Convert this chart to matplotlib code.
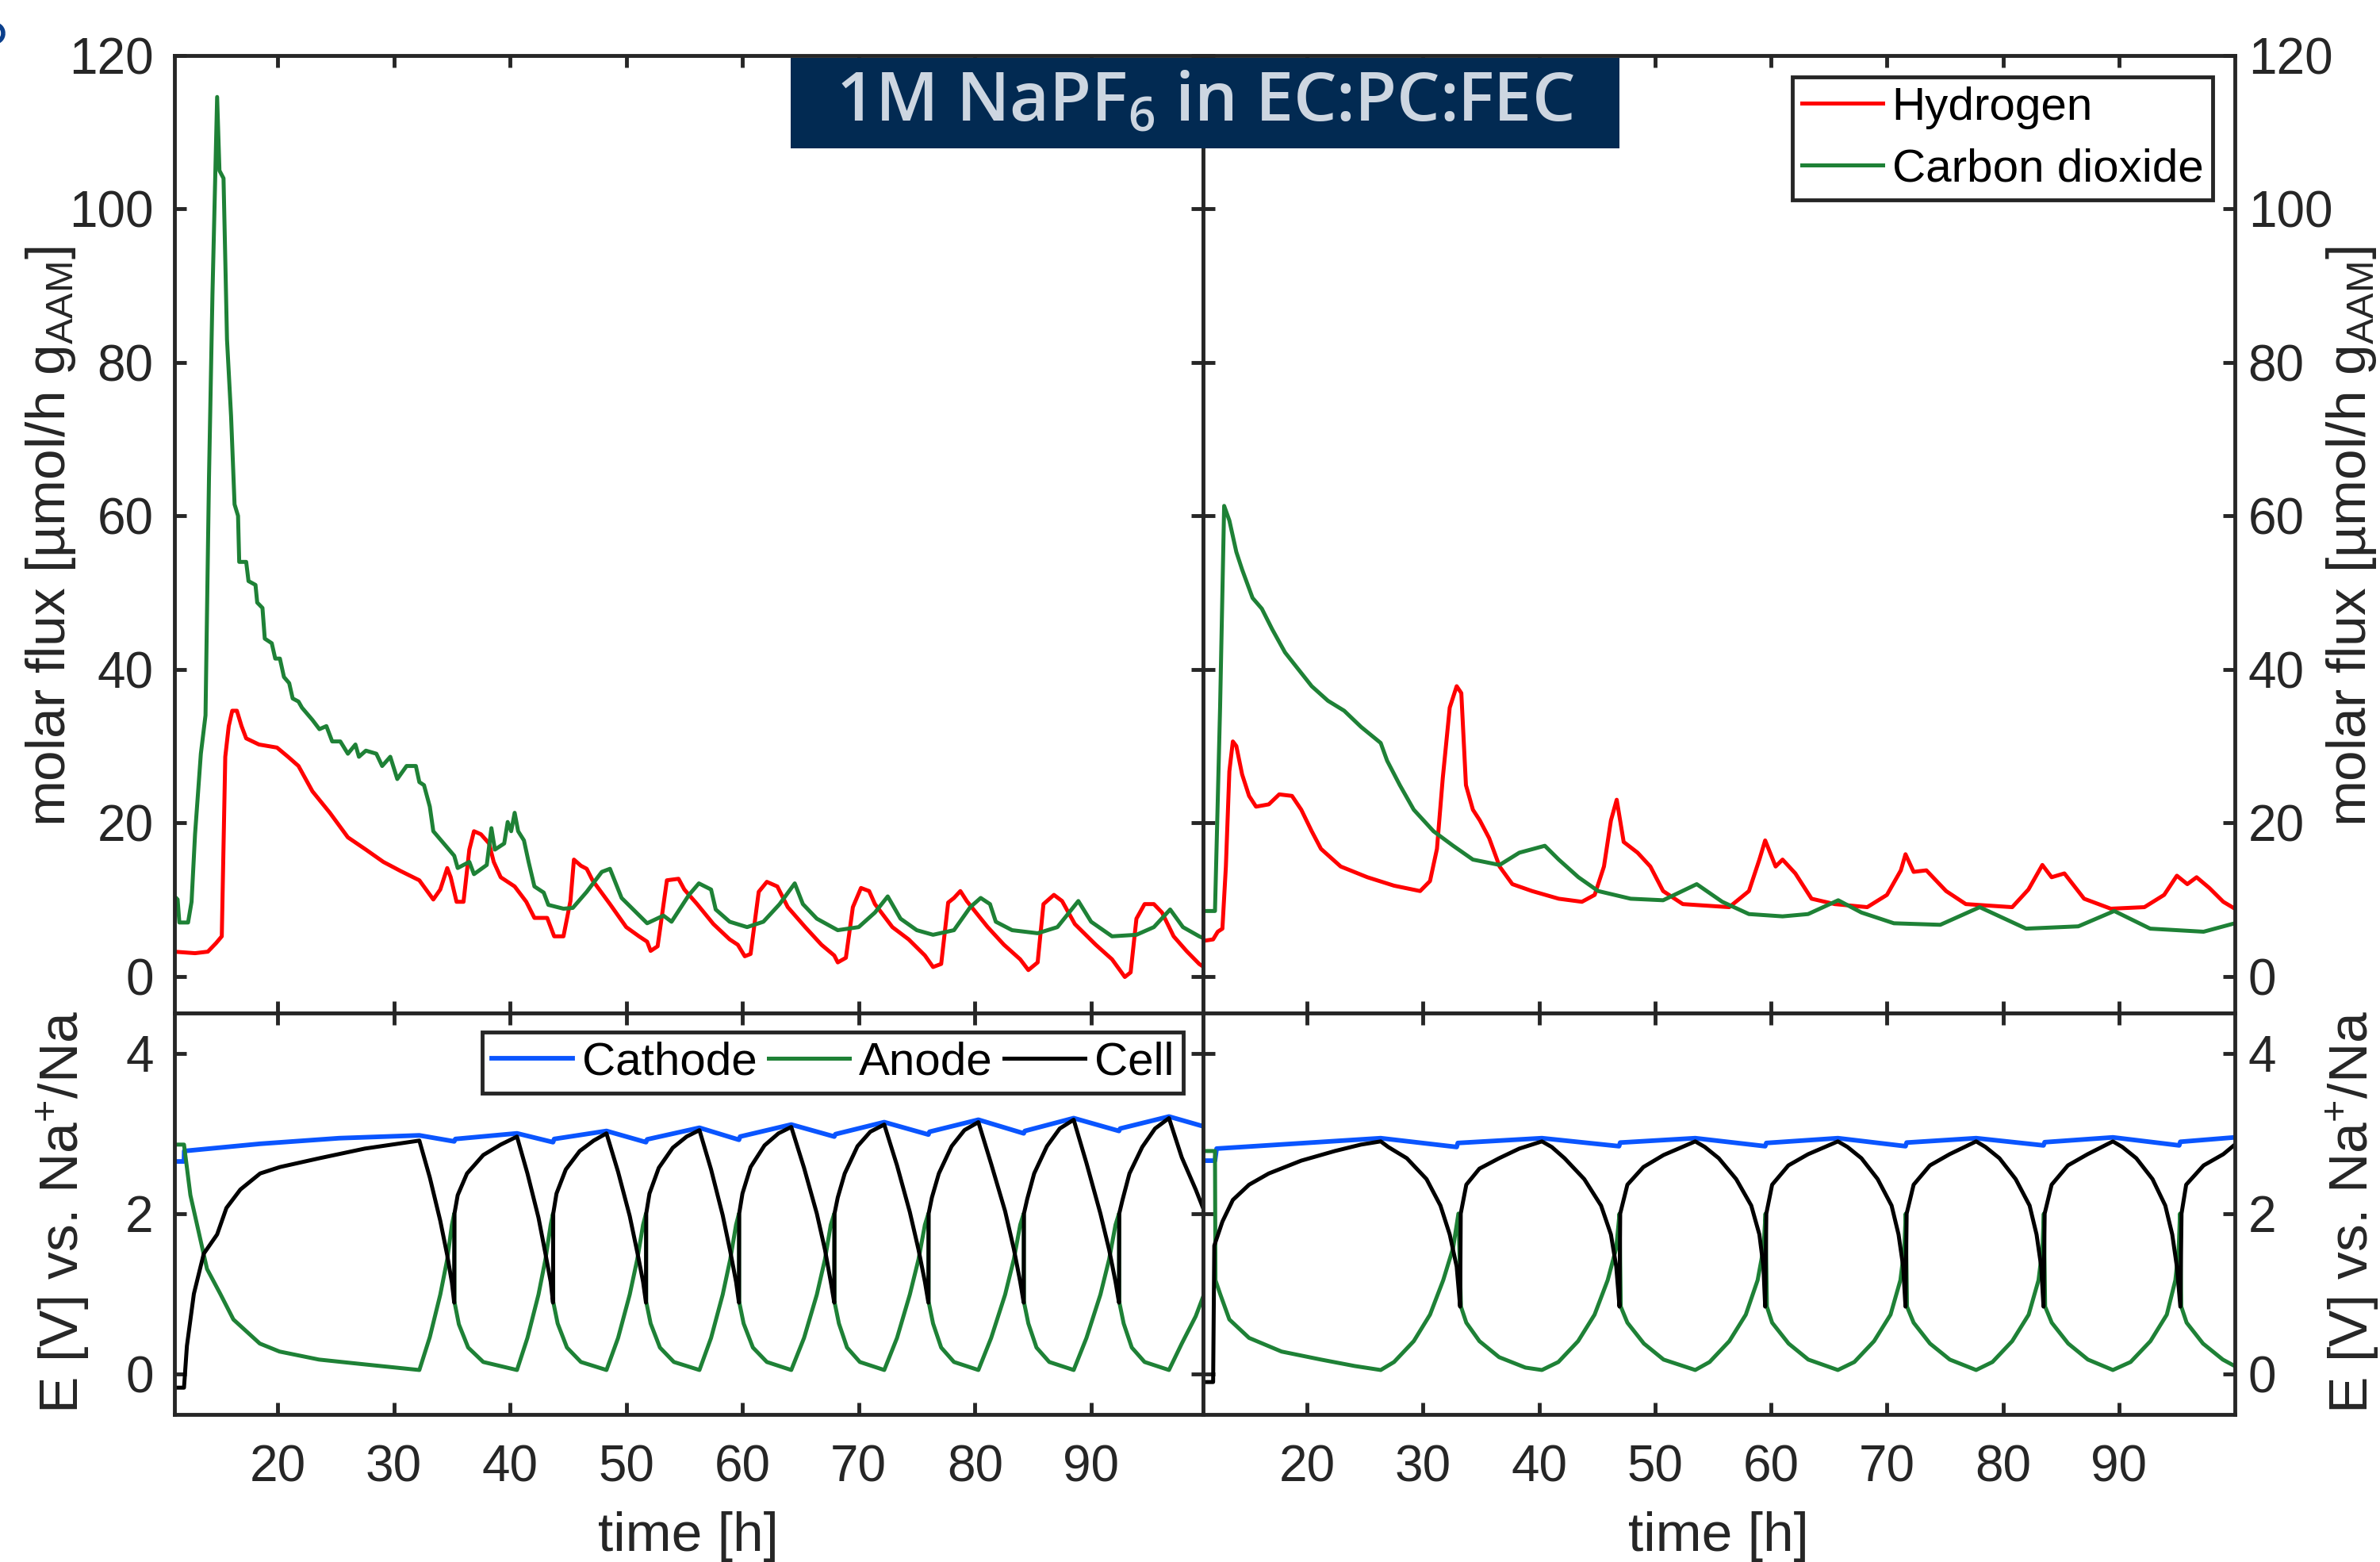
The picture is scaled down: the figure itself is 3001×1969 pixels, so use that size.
import numpy as np
import matplotlib
matplotlib.use("Agg")
import matplotlib.pyplot as plt
from matplotlib.patches import Rectangle, Arc

plt.rcParams["font.family"] = ["Liberation Sans", "DejaVu Sans"]
plt.rcParams["mathtext.fontset"] = "custom"
plt.rcParams["mathtext.rm"] = "Liberation Sans"
plt.rcParams["mathtext.default"] = "regular"

# ---- gas flux, left cell (time h, umol/h g) ----
h2_left = [
    (11.1, 3.2), (12.9, 3.0), (14.0, 3.2), (14.7, 4.3), (15.2, 5.2), (15.5, 28.6), (15.8, 32.6),
    (16.1, 34.6), (16.5, 34.6), (16.9, 32.6), (17.3, 31.0), (18.4, 30.2), (19.95, 29.8), (20.9, 28.6),
    (21.8, 27.4), (23.0, 24.1), (24.5, 21.3), (26.05, 18.1), (27.6, 16.5), (29.1, 14.9), (30.6, 13.7),
    (32.2, 12.5), (33.4, 10.0), (34.0, 11.3), (34.6, 14.1), (34.9, 12.9), (35.4, 9.7), (36.0, 9.7),
    (36.5, 16.5), (36.9, 18.9), (37.5, 18.5), (38.2, 17.3), (38.6, 14.9), (39.2, 12.9), (40.4, 11.7),
    (41.4, 9.7), (42.1, 7.6), (43.2, 7.6), (43.8, 5.2), (44.6, 5.2), (45.2, 9.8), (45.5, 15.2),
    (46.1, 14.4), (46.6, 14.0), (47.1, 12.5), (48.6, 9.4), (50.0, 6.4), (51.1, 5.2), (51.8, 4.5),
    (52.1, 3.3), (52.7, 3.9), (53.0, 7.1), (53.5, 12.5), (54.5, 12.7), (55.0, 11.3), (56.1, 9.4),
    (57.5, 6.8), (58.9, 4.8), (59.6, 4.1), (60.2, 2.6), (60.7, 2.9), (61.4, 11.0), (62.1, 12.3),
    (63.0, 11.7), (63.9, 9.0), (65.4, 6.4), (66.8, 4.1), (67.9, 2.7), (68.2, 1.8), (68.9, 2.4),
    (69.5, 9.0), (70.2, 11.5), (70.9, 11.1), (71.4, 9.4), (72.9, 6.4), (74.3, 4.8), (75.7, 2.7),
    (76.4, 1.2), (77.1, 1.6), (77.7, 9.6), (78.2, 10.2), (78.75, 11.1), (79.3, 9.8), (81.1, 6.4),
    (82.5, 4.1), (83.9, 2.2), (84.6, 0.8), (85.4, 1.8), (85.9, 9.4), (86.8, 10.6), (87.5, 9.8),
    (88.6, 6.8), (90.4, 4.1), (91.8, 2.2), (92.9, -0.1), (93.4, 0.5), (93.9, 7.5), (94.6, 9.4),
    (95.4, 9.4), (96.1, 8.3), (97.1, 5.2), (98.2, 3.3), (99.3, 1.6), (99.6, 1.3),
]
co2_left = [
    (11.07, 10.5), (11.4, 10.0), (11.55, 7.0), (12.3, 7.0), (12.6, 9.7), (12.9, 18.5), (13.4, 29.0),
    (13.8, 34.0), (14.1, 65.0), (14.4, 89.0), (14.8, 114.6), (15.0, 105.0), (15.35, 104.0),
    (15.65, 83.0), (16.0, 73.0), (16.3, 61.5), (16.6, 60.0), (16.7, 54.0), (17.3, 54.0), (17.5, 51.5),
    (18.1, 51.0), (18.25, 48.7), (18.7, 48.0), (18.9, 44.0), (19.5, 43.4), (19.8, 41.4), (20.2, 41.4),
    (20.55, 39.0), (21.0, 38.2), (21.3, 36.2), (21.8, 35.8), (22.1, 35.0), (23.0, 33.4), (23.6, 32.2),
    (24.2, 32.6), (24.7, 30.6), (25.4, 30.6), (26.05, 29.0), (26.7, 30.2), (27.0, 28.6), (27.6, 29.4),
    (28.5, 29.0), (29.0, 27.4), (29.7, 28.6), (30.3, 25.7), (31.1, 27.4), (31.9, 27.4), (32.2, 25.3),
    (32.6, 24.9), (33.1, 22.1), (33.4, 18.9), (34.3, 17.3), (35.2, 15.7), (35.5, 14.1), (36.5, 14.9),
    (36.9, 13.3), (38.0, 14.5), (38.4, 19.3), (38.7, 16.5), (39.5, 17.3), (39.8, 20.1), (40.1, 18.9),
    (40.4, 21.3), (40.7, 18.9), (41.2, 17.7), (41.6, 14.9), (42.1, 11.7), (42.9, 10.9), (43.3, 9.3),
    (44.6, 8.8), (45.4, 8.9), (46.6, 11.0), (47.9, 13.6), (48.6, 14.0), (49.6, 10.2), (50.4, 9.0),
    (51.8, 6.9), (53.2, 7.9), (53.9, 7.1), (55.4, 10.6), (56.25, 12.1), (57.3, 11.3), (57.7, 8.7),
    (58.9, 7.1), (60.4, 6.4), (61.8, 7.1), (63.2, 9.4), (64.5, 12.1), (65.2, 9.4), (66.4, 7.5),
    (68.2, 6.0), (70.0, 6.4), (71.4, 8.3), (72.5, 10.4), (73.6, 7.5), (75.0, 6.0), (76.4, 5.4),
    (78.2, 6.0), (79.6, 9.0), (80.5, 10.2), (81.3, 9.4), (81.8, 7.1), (83.2, 6.0), (85.4, 5.6),
    (87.1, 6.4), (88.9, 9.8), (90.0, 7.1), (91.8, 5.2), (93.9, 5.4), (95.4, 6.4), (96.8, 8.7),
    (97.9, 6.4), (99.3, 5.2), (99.6, 5.0),
]

# ---- gas flux, right cell ----
h2_right = [
    (11.04, 4.6), (11.9, 4.8), (12.3, 5.8), (12.7, 6.2), (13.0, 14.3), (13.3, 26.7), (13.6, 30.6),
    (13.9, 30.0), (14.4, 26.3), (15.0, 23.5), (15.6, 22.1), (16.7, 22.4), (17.6, 23.7), (18.7, 23.5),
    (19.5, 21.7), (20.4, 18.9), (21.2, 16.6), (22.9, 14.3), (25.2, 12.9), (27.5, 11.8), (29.75, 11.1),
    (30.6, 12.4), (31.2, 16.6), (31.7, 25.8), (32.3, 35.0), (32.9, 37.8), (33.3, 36.9), (33.7, 24.9),
    (34.3, 21.7), (34.9, 20.3), (35.7, 18.0), (36.6, 14.3), (37.7, 12.0), (39.4, 11.1), (41.7, 10.1),
    (43.7, 9.7), (44.8, 10.6), (45.6, 14.3), (46.2, 20.3), (46.7, 23.0), (47.3, 17.5), (48.5, 16.1),
    (49.6, 14.3), (50.7, 11.1), (52.4, 9.4), (56.4, 9.0), (58.1, 11.1), (59.0, 15.2), (59.5, 17.7),
    (60.4, 14.3), (61.0, 15.2), (62.1, 13.4), (63.5, 10.1), (65.5, 9.4), (68.3, 9.0), (70.0, 10.6),
    (71.2, 13.8), (71.6, 15.9), (72.3, 13.6), (73.4, 13.8), (75.1, 11.1), (76.8, 9.4), (80.8, 9.0),
    (82.2, 11.3), (83.4, 14.5), (84.2, 12.9), (85.3, 13.4), (87.0, 10.1), (89.3, 8.8), (92.2, 9.0),
    (93.9, 10.6), (95.0, 13.1), (95.9, 12.0), (96.7, 12.9), (97.8, 11.5), (99.0, 9.7), (100.0, 8.8),
]
co2_right = [
    (11.04, 8.5), (12.06, 8.5), (12.5, 35.0), (12.85, 61.3), (13.3, 59.4), (13.9, 55.3), (14.4, 53.0),
    (15.3, 49.3), (16.1, 47.9), (17.0, 45.2), (18.1, 42.2), (19.3, 39.9), (20.4, 37.8), (21.8, 35.9),
    (23.2, 34.6), (24.65, 32.5), (26.35, 30.4), (26.9, 28.1), (28.0, 24.9), (29.2, 21.7), (30.9, 18.9),
    (32.6, 17.0), (34.3, 15.2), (36.6, 14.5), (38.3, 16.1), (40.5, 17.0), (41.7, 15.2), (43.4, 12.9),
    (45.1, 11.1), (47.9, 10.1), (50.7, 9.9), (53.6, 12.0), (55.8, 9.7), (58.1, 8.1), (61.0, 7.8),
    (63.2, 8.1), (65.8, 9.9), (67.8, 8.3), (70.6, 6.9), (74.6, 6.7), (78.0, 9.0), (82.0, 6.2),
    (86.5, 6.5), (89.6, 8.5), (92.7, 6.2), (97.3, 5.8), (100.0, 6.9),
]

# ---- potentials, left cell (time h, V vs Na+/Na) ----
cathode_left = [
    (11.13, 2.65), (11.95, 2.65), (11.97, 2.78), (18.5, 2.87), (25.3, 2.94), (32.2, 2.975),
    (35.2, 2.9), (35.3, 2.93), (40.6, 3.0), (43.7, 2.89), (43.8, 2.93), (48.3, 3.03), (51.7, 2.89),
    (51.8, 2.925), (56.3, 3.07), (59.7, 2.92), (59.8, 2.96), (64.2, 3.11), (67.9, 2.96), (68.0, 2.99),
    (72.2, 3.14), (76.0, 2.985), (76.1, 3.02), (80.3, 3.17), (84.2, 3.0), (84.3, 3.03), (88.5, 3.19),
    (92.4, 3.03), (92.5, 3.06), (96.7, 3.21), (99.6, 3.09),
]
anode_left = [
    (11.13, 2.86), (11.95, 2.86), (12.5, 2.23), (13.37, 1.67), (13.93, 1.31), (15.07, 1.0),
    (16.2, 0.68), (18.47, 0.38), (20.17, 0.28), (23.57, 0.18), (27.5, 0.12), (32.2, 0.05),
    (33.1, 0.46), (34.0, 0.99), (34.6, 1.43), (35.0, 1.86), (35.2, 2.0), (35.22, 0.9), (35.6, 0.62),
    (36.4, 0.33), (37.7, 0.15), (40.6, 0.05),
    (41.5, 0.45), (42.45, 0.99), (43.05, 1.43), (43.5, 1.86), (43.7, 2.0), (43.72, 0.9), (44.1, 0.63),
    (44.9, 0.33), (46.1, 0.15), (48.3, 0.05),
    (49.3, 0.45), (50.3, 0.99), (50.95, 1.43), (51.45, 1.86), (51.7, 2.0), (51.72, 0.9), (52.1, 0.63),
    (52.9, 0.33), (54.1, 0.15), (56.3, 0.05),
    (57.3, 0.45), (58.3, 0.99), (58.95, 1.43), (59.45, 1.86), (59.7, 2.0), (59.72, 0.9), (60.1, 0.63),
    (60.9, 0.33), (62.1, 0.15), (64.2, 0.05),
    (65.3, 0.45), (66.4, 0.99), (67.1, 1.43), (67.6, 1.86), (67.9, 2.0), (67.92, 0.9), (68.3, 0.63),
    (69.0, 0.33), (70.1, 0.15), (72.2, 0.05),
    (73.3, 0.45), (74.4, 0.99), (75.15, 1.43), (75.7, 1.86), (76.0, 2.0), (76.02, 0.9), (76.4, 0.63),
    (77.1, 0.33), (78.2, 0.15), (80.3, 0.05),
    (81.4, 0.45), (82.6, 0.99), (83.35, 1.43), (83.9, 1.86), (84.2, 2.0), (84.22, 0.9), (84.6, 0.63),
    (85.3, 0.33), (86.4, 0.15), (88.5, 0.05),
    (89.6, 0.45), (90.8, 0.99), (91.55, 1.43), (92.1, 1.86), (92.4, 2.0), (92.42, 0.9), (92.8, 0.63),
    (93.5, 0.33), (94.6, 0.15), (96.7, 0.05),
    (97.8, 0.38), (99.0, 0.72), (99.6, 0.95),
]
cell_left = [
    (11.13, -0.17), (11.95, -0.17), (12.2, 0.35), (12.8, 1.0), (13.65, 1.5), (14.8, 1.74),
    (15.6, 2.07), (16.8, 2.3), (18.5, 2.5), (20.2, 2.58), (23.6, 2.69), (27.5, 2.81), (32.2, 2.91),
    (33.1, 2.45), (34.0, 1.91), (34.6, 1.48), (35.0, 1.14), (35.2, 0.89), (35.22, 2.0), (35.5, 2.23),
    (36.3, 2.5), (37.7, 2.73), (39.2, 2.86), (40.6, 2.96),
    (41.5, 2.5), (42.45, 1.95), (43.05, 1.5), (43.5, 1.15), (43.7, 0.89), (43.72, 2.0), (44.0, 2.25),
    (44.8, 2.55), (46.0, 2.78), (47.2, 2.91), (48.3, 3.0),
    (49.3, 2.52), (50.3, 1.97), (50.95, 1.52), (51.45, 1.15), (51.7, 0.89), (51.72, 2.0), (52.0, 2.25),
    (52.8, 2.57), (54.0, 2.82), (55.2, 2.96), (56.3, 3.04),
    (57.3, 2.55), (58.3, 1.98), (58.95, 1.53), (59.45, 1.15), (59.7, 0.89), (59.72, 2.0), (60.0, 2.25),
    (60.7, 2.58), (61.9, 2.85), (63.1, 3.0), (64.2, 3.08),
    (65.3, 2.57), (66.4, 2.0), (67.1, 1.55), (67.6, 1.15), (67.9, 0.89), (67.92, 2.0), (68.2, 2.2),
    (68.8, 2.5), (69.9, 2.84), (71.0, 3.02), (72.2, 3.11),
    (73.3, 2.6), (74.4, 2.02), (75.15, 1.55), (75.7, 1.15), (76.0, 0.89), (76.02, 2.0), (76.3, 2.2),
    (76.9, 2.5), (78.0, 2.84), (79.1, 3.04), (80.3, 3.14),
    (81.4, 2.62), (82.6, 2.03), (83.35, 1.56), (83.9, 1.15), (84.2, 0.89), (84.22, 2.0), (84.5, 2.18),
    (85.1, 2.5), (86.2, 2.84), (87.3, 3.06), (88.5, 3.17),
    (89.6, 2.63), (90.8, 2.0), (91.55, 1.55), (92.1, 1.15), (92.4, 0.89), (92.42, 2.0), (92.7, 2.17),
    (93.3, 2.5), (94.4, 2.83), (95.5, 3.06), (96.7, 3.19),
    (97.8, 2.7), (99.0, 2.3), (99.6, 2.08),
]

# ---- potentials, right cell ----
cathode_right = [
    (11.04, 2.66), (12.06, 2.66), (12.2, 2.81), (26.35, 2.94), (32.9, 2.83), (33.0, 2.88),
    (40.25, 2.94), (46.9, 2.84), (47.0, 2.885), (53.47, 2.94), (59.5, 2.84), (59.6, 2.88),
    (65.77, 2.94), (71.6, 2.84), (71.7, 2.885), (77.69, 2.94), (83.5, 2.85), (83.6, 2.89),
    (89.48, 2.95), (95.2, 2.85), (95.3, 2.895), (99.98, 2.95),
]
anode_right = [
    (11.04, 2.78), (12.06, 2.78), (12.1, 1.17), (12.5, 1.0), (13.3, 0.68), (15.0, 0.45), (17.8, 0.28),
    (21.2, 0.18), (24.1, 0.1), (26.35, 0.05),
    (27.5, 0.15), (29.2, 0.41), (30.6, 0.74), (31.74, 1.17), (32.59, 1.57), (33.05, 2.0), (33.27, 0.84),
    (33.73, 0.64), (34.86, 0.41), (36.56, 0.21), (38.83, 0.08), (40.25, 0.05),
    (41.67, 0.15), (43.37, 0.41), (44.79, 0.74), (45.92, 1.17), (46.66, 1.57), (46.94, 2.0),
    (47.05, 0.84), (47.62, 0.64), (49.04, 0.38), (50.74, 0.18), (53.47, 0.05),
    (54.71, 0.15), (56.41, 0.41), (57.83, 0.74), (58.85, 1.17), (59.36, 1.57), (59.53, 2.0),
    (59.65, 0.84), (60.1, 0.64), (61.52, 0.38), (63.22, 0.18), (65.77, 0.05),
    (67.19, 0.15), (68.89, 0.41), (70.31, 0.74), (71.16, 1.17), (71.5, 1.57), (71.62, 2.0),
    (71.73, 0.84), (72.3, 0.64), (73.71, 0.38), (75.42, 0.18), (77.69, 0.05),
    (79.1, 0.15), (80.8, 0.41), (82.22, 0.74), (83.07, 1.17), (83.41, 1.57), (83.53, 2.0),
    (83.64, 0.84), (84.21, 0.64), (85.63, 0.38), (87.33, 0.18), (89.48, 0.05),
    (91.01, 0.15), (92.72, 0.41), (94.13, 0.74), (94.87, 1.17), (95.16, 1.57), (95.27, 2.0),
    (95.38, 0.84), (95.84, 0.64), (97.25, 0.38), (98.96, 0.18), (99.98, 0.1),
]
cell_right = [
    (11.04, -0.1), (11.9, -0.1), (12.0, 1.6), (12.7, 1.9), (13.6, 2.17), (15.0, 2.36), (16.7, 2.5),
    (19.5, 2.66), (22.4, 2.78), (24.65, 2.86), (26.35, 2.9),
    (27.0, 2.83), (28.6, 2.69), (30.3, 2.43), (31.5, 2.1), (32.3, 1.74), (32.9, 1.34), (33.2, 0.84),
    (33.25, 2.0), (33.73, 2.36), (34.86, 2.56), (36.56, 2.69), (38.3, 2.81), (40.25, 2.9),
    (41.1, 2.83), (42.2, 2.69), (43.9, 2.43), (45.35, 2.1), (46.2, 1.74), (46.66, 1.34), (46.94, 0.84),
    (47.0, 2.0), (47.62, 2.36), (49.0, 2.58), (50.74, 2.73), (53.47, 2.9),
    (54.3, 2.83), (55.5, 2.69), (57.0, 2.43), (58.3, 2.1), (59.0, 1.74), (59.35, 1.34), (59.5, 0.84),
    (59.6, 2.0), (60.1, 2.36), (61.5, 2.6), (63.2, 2.74), (65.77, 2.9),
    (66.6, 2.83), (67.8, 2.69), (69.2, 2.43), (70.4, 2.1), (71.0, 1.74), (71.4, 1.34), (71.6, 0.84),
    (71.7, 2.0), (72.3, 2.36), (73.7, 2.6), (75.4, 2.74), (77.69, 2.9),
    (78.5, 2.83), (79.7, 2.69), (81.1, 2.43), (82.3, 2.1), (82.9, 1.74), (83.3, 1.34), (83.5, 0.84),
    (83.6, 2.0), (84.2, 2.36), (85.6, 2.6), (87.3, 2.74), (89.48, 2.9),
    (90.3, 2.83), (91.5, 2.69), (92.9, 2.43), (94.0, 2.1), (94.6, 1.74), (95.0, 1.34), (95.3, 0.84),
    (95.4, 2.0), (95.8, 2.36), (97.3, 2.6), (99.0, 2.74), (100.0, 2.86),
]

X_TICKS = [20, 30, 40, 50, 60, 70, 80, 90]
FLUX_TICKS = [0, 20, 40, 60, 80, 100, 120]
E_TICKS = [0, 2, 4]

RED = "#ff0000"
GREEN = "#1e8136"
BLUE = "#0a55ff"
AX_COLOR = "#262626"

W, H = 3001, 1969
fig = plt.figure(figsize=(W / 100, H / 100), dpi=100)


def add_ax(x0, x1, y0, y1):
    return fig.add_axes([x0 / W, 1 - y1 / H, (x1 - x0) / W, (y1 - y0) / H])


def style(ax, right_side):
    for s in ax.spines.values():
        s.set_linewidth(3.5)
        s.set_color(AX_COLOR)
    ax.tick_params(direction="in", top=True, right=True, length=11, width=3.5,
                   color=AX_COLOR, labelsize=46, labelcolor=AX_COLOR)
    ax.tick_params(axis="x", pad=27)
    if right_side:
        ax.tick_params(axis="y", labelleft=False, labelright=True, pad=12)
    else:
        ax.tick_params(axis="y", pad=19)
    ax.set_xticks(X_TICKS)


def xy(pairs):
    a = np.array(pairs)
    return a[:, 0], a[:, 1]


ax_tl = add_ax(220, 1516.5, 70, 1277)
ax_tr = add_ax(1516.5, 2818, 70, 1277)
ax_bl = add_ax(220, 1516.5, 1277, 1782.6)
ax_br = add_ax(1516.5, 2818, 1277, 1782.6)

LW = 3.6
for ax, h2, co2, xlim in [(ax_tl, h2_left, co2_left, (11.13, 99.6)),
                          (ax_tr, h2_right, co2_right, (11.0, 100.0))]:
    ax.plot(*xy(h2), color=RED, lw=LW, label="Hydrogen")
    ax.plot(*xy(co2), color=GREEN, lw=LW, label="Carbon dioxide")
    ax.set_xlim(*xlim)
    ax.set_ylim(-4.8, 120)
    ax.set_yticks(FLUX_TICKS)
    style(ax, ax is ax_tr)
    ax.tick_params(axis="x", labelbottom=False)

for ax, cat, ano, cel, xlim in [(ax_bl, cathode_left, anode_left, cell_left, (11.13, 99.6)),
                                (ax_br, cathode_right, anode_right, cell_right, (11.0, 100.0))]:
    ax.plot(*xy(cat), color=BLUE, lw=4.2, label="Cathode")
    ax.plot(*xy(ano), color=GREEN, lw=LW, label="Anode")
    ax.plot(*xy(cel), color="black", lw=LW, label="Cell")
    ax.set_xlim(*xlim)
    ax.set_ylim(-0.5, 4.5)
    ax.set_yticks(E_TICKS)
    style(ax, ax is ax_br)
    ax.set_xlabel("time [h]", fontsize=50, color=AX_COLOR, labelpad=18)

leg_kw = dict(frameon=True, fancybox=False, framealpha=1, edgecolor=AX_COLOR,
              fontsize=42, handlelength=1.75, handletextpad=0.2, borderpad=0.2,
              borderaxespad=0)
leg1 = ax_tr.legend(loc="upper right", bbox_to_anchor=(0.9785, 0.9776),
                    labelspacing=0.4, **leg_kw)
leg2 = ax_bl.legend(loc="upper right", bbox_to_anchor=(0.9811, 0.9525), ncol=3,
                    columnspacing=0.25, **leg_kw)
for leg in (leg1, leg2):
    leg.get_frame().set_linewidth(3.5)

# y-axis labels
flux_label = "molar flux [\u00b5mol/h g$_{AAM}$]"
e_label = "E [V] vs. Na$^{+}$/Na"
yc_top = 1 - 676 / H
yc_bot = 1 - 1528 / H
fig.text(30 / W, yc_top, flux_label, rotation=90, ha="left", va="center", fontsize=50, color=AX_COLOR)
fig.text(44 / W, yc_bot, e_label, rotation=90, ha="left", va="center", fontsize=50, color=AX_COLOR)
fig.text(2931 / W, yc_top, flux_label, rotation=90, ha="left", va="center", fontsize=50, color=AX_COLOR)
fig.text(2931 / W, yc_bot, e_label, rotation=90, ha="left", va="center", fontsize=50, color=AX_COLOR)

# title banner
fig.patches.append(Rectangle((997 / W, 1 - 187 / H), (2042 - 997) / W, (187 - 73) / H,
                             transform=fig.transFigure, facecolor="#022a52",
                             edgecolor="none", zorder=5))
fig.text(1519.5 / W, 1 - 153 / H, "1M NaPF$_6$ in EC:PC:FEC", ha="center", va="baseline",
         fontsize=62, family="Open Sans", weight="semibold", color="#cdd6e1", zorder=6)

# clipped bowl of the panel letter at the far left edge
fig.patches.append(Arc((-6 / W, 1 - 42 / H), 20 / W, 22 / H, transform=fig.transFigure,
                       color="#0b3f8c", lw=4))

fig.savefig("out.png", dpi=100)
